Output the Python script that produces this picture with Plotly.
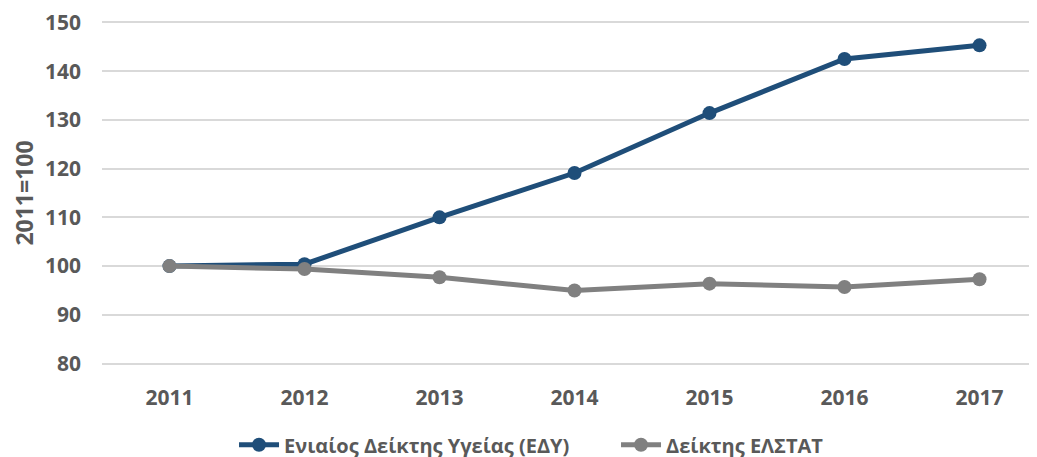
import plotly.graph_objects as go

years = ["2011", "2012", "2013", "2014", "2015", "2016", "2017"]
edy_index = [100.0, 100.4, 110.0, 119.1, 131.4, 142.5, 145.3]
elstat_index = [100.0, 99.4, 97.7, 95.0, 96.4, 95.7, 97.3]
y_ticks = [80, 90, 100, 110, 120, 130, 140, 150]

name_edy = "Ενιαίος Δείκτης Υγείας (ΕΔΥ)"
name_elstat = "Δείκτης ΕΛΣΤΑΤ"

BLUE = "#1F4E79"
GRAY = "#808080"
TXT = "#595959"
FONT = "Open Sans"

fig = go.Figure()
fig.add_trace(go.Scatter(x=years, y=edy_index, name=name_edy, mode="lines+markers",
                         line=dict(color=BLUE, width=5),
                         marker=dict(color=BLUE, size=14)))
fig.add_trace(go.Scatter(x=years, y=elstat_index, name=name_elstat, mode="lines+markers",
                         line=dict(color=GRAY, width=5),
                         marker=dict(color=GRAY, size=14)))

fig.update_layout(
    width=1037, height=457,
    margin=dict(l=94, r=0, t=12.5, b=100),
    plot_bgcolor="white", paper_bgcolor="white",
    font=dict(family=FONT, color=TXT),
    showlegend=True,
    legend=dict(orientation="h", x=0.14, xanchor="left", y=-0.232, yanchor="middle",
                font=dict(family=FONT, size=20, color=TXT, weight="bold"),
                itemwidth=40, entrywidth=327, entrywidthmode="pixels", tracegroupgap=0),
    xaxis=dict(type="category", range=[-0.5, 6.485], showgrid=False, zeroline=False,
               showline=False, ticks="", ticklabelstandoff=18,
               tickfont=dict(family=FONT, size=21, color=TXT, weight="bold")),
    yaxis=dict(range=[79.7, 150.3], tickvals=y_ticks, showgrid=True, gridcolor="#D9D9D9",
               gridwidth=1.5, zeroline=False, showline=False, ticks="",
               ticklabelstandoff=20, ticklabeloverflow="allow",
               tickfont=dict(family=FONT, size=21, color=TXT, weight="bold"),
               title=dict(text="2011=100", standoff=6,
                          font=dict(family=FONT, size=23, color=TXT, weight="bold"))),
)

fig.write_html("out.html", config={"displayModeBar": False})
